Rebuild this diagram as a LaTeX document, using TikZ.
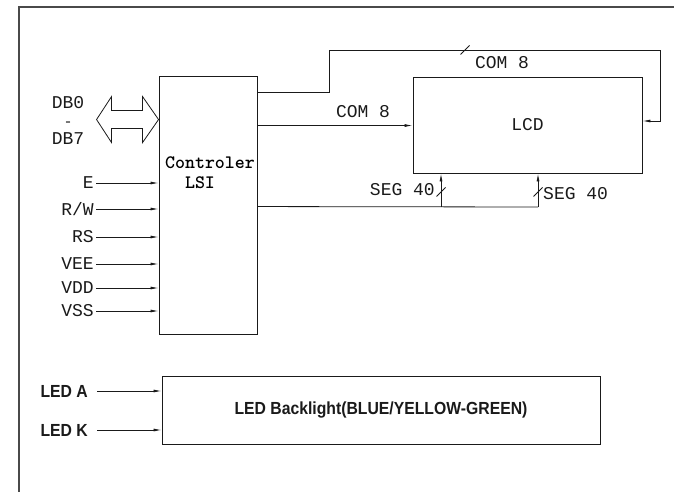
\documentclass[tikz,border=0pt]{standalone}
\usepackage{fontspec}
\usetikzlibrary{arrows.meta,positioning,calc}
\newfontfamily\cadfont{Liberation Mono}
\newfontfamily\ledfont[FakeStretch=0.9]{Liberation Sans}
\definecolor{FrameGray}{HTML}{4A4A4A}
\definecolor{InkBlack}{HTML}{1A1A1A}

\begin{document}
\begin{tikzpicture}[x=1pt, y=-1pt,
  block/.style={draw=InkBlack, line width=0.9pt, inner sep=0pt},
  wire/.style={draw=InkBlack, line width=0.8pt},
  feed/.style={wire, -{Latex[length=8pt,width=3pt]}},
  tag/.style={font=\cadfont\fontsize{18}{18}\selectfont, inner sep=2pt, text=InkBlack},
  ledtag/.style={font=\ledfont\bfseries\fontsize{17.5}{17.5}\selectfont, inner sep=0pt, text=InkBlack}
]
\useasboundingbox (0,0) rectangle (674,492);

% frame
\draw[FrameGray, line width=1.4pt] (19,492) -- (19,7) -- (674,7);

% blocks
\node[block, minimum width=98pt, minimum height=258pt] (ctrl) at (208,205) {};
\node[block, tag, minimum width=229pt, minimum height=96pt] (lcd) at (527.5,125) {LCD};
\node[block, ledtag, minimum width=438pt, minimum height=68pt] (back) at (381,410)
  {LED Backlight(BLUE/YELLOW-GREEN)};

\node[font=\ttfamily\bfseries\fontsize{19}{19}\selectfont, inner sep=0pt] (ctrlname) at (210,163) {Controler};
\node[font=\ttfamily\bfseries\fontsize{19}{19}\selectfont, inner sep=0pt] (ctrllsi) at (200,183) {LSI};

% data bus
\coordinate (dbEnd) at ([yshift=-44pt]ctrl.north west);
\draw[wire] (dbEnd) -- ++(-16,-23) -- ++(0,14) -- ++(-31,0) -- ++(0,-14) -- ++(-15,23)
  -- ++(15,23) -- ++(0,-14) -- ++(31,0) -- ++(0,14) -- cycle;
\node[tag, inner sep=0pt] (dbfirst) at (68,103) {DB0};
\node[tag, inner sep=0pt, font=\cadfont\fontsize{15}{15}\selectfont] (dbdash) at (68,124) {-};
\node[tag, inner sep=0pt] (dblast) at (68,139) {DB7};

% control inputs
\foreach \lbl/\yy [count=\i] in {E/183, {R/W}/209, RS/237, VEE/264, VDD/288, VSS/311} {
  \node[tag, anchor=east] (sig\i) at (96,\yy) {\lbl};
  \draw[feed] (sig\i.east) -- (sig\i.east -| ctrl.west);
}

% COM lines
\coordinate (comA) at ([yshift=-17pt]ctrl.north east);
\coordinate (comB) at ([yshift=-50pt]ctrl.north east);
\coordinate (riseA) at (329,50);
\coordinate (dropA) at (660,121);
\draw[feed] (comA) -| (riseA) -| (dropA) -- (dropA -| lcd.east);
\draw[feed] (comB) -- (comB -| lcd.west);
\node[tag] (comtop) at (502,63) {COM 8};
\node[tag] (commid) at (363,112) {COM 8};

% SEG lines
\coordinate (segA) at ([yshift=-131pt]ctrl.north east);
\coordinate (segL) at (441,207);
\coordinate (segR) at (538,207);
\draw[wire] (segA) -- (segR);
\draw[feed] (segL) -- (segL |- lcd.south);
\draw[feed] (segR) -- (segR |- lcd.south);
\node[tag, anchor=east] (segleft) at (437,190) {SEG 40};
\node[tag, anchor=west] (segright) at (541,194) {SEG 40};

% bus ticks
\coordinate (tickA) at (465,50);
\coordinate (tickB) at (441,192);
\coordinate (tickC) at (538,192);
\foreach \t in {tickA,tickB,tickC}
  \draw[wire] ($(\t)+(-4.5,4.5)$) -- ($(\t)+(4.5,-4.5)$);

% backlight inputs
\node[ledtag, anchor=east] (leda) at (88,391) {LED A};
\node[ledtag, anchor=east] (ledk) at (88,430) {LED K};
\draw[feed, shorten <=9pt] (leda.east) -- (leda.east -| back.west);
\draw[feed, shorten <=9pt] (ledk.east) -- (ledk.east -| back.west);

\end{tikzpicture}
\end{document}
